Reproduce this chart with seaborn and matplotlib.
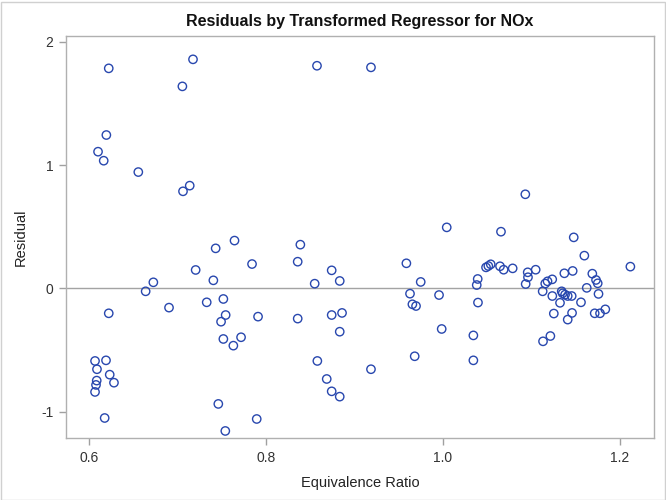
import matplotlib
matplotlib.use("Agg")
import matplotlib.pyplot as plt
import seaborn as sns
import pandas as pd
from matplotlib.patches import Rectangle

equivalence_ratio = [
    0.6223, 0.7175, 0.7055, 0.6196, 0.6102, 0.6166, 0.6557, 0.7138, 0.7062, 0.7644,
    0.7431, 0.7842, 0.7205, 0.7405, 0.6727, 0.6640, 0.7330, 0.7518, 0.6904, 0.6223,
    0.7544, 0.7492, 0.7910, 0.7518, 0.7718, 0.7631, 0.6068, 0.6192, 0.6090, 0.6234,
    0.6087, 0.6079, 0.6282, 0.6068, 0.6177, 0.7461, 0.7895, 0.7540,
    0.8576, 0.9186, 1.0042, 0.8388, 0.8358, 0.8742, 0.8550, 0.8833, 0.9586, 0.9748,
    0.9627, 0.9955, 0.9654, 0.9695, 0.8358, 0.8742, 0.8859, 0.8833, 0.9985, 0.8580,
    0.9680, 0.9186, 0.8686, 0.8742, 0.8833,
    1.0930, 1.0655, 1.1477, 1.1597, 1.2117, 1.0486, 1.0512, 1.0539, 1.0644, 1.0685,
    1.0787, 1.1047, 1.0957, 1.0960, 1.0934, 1.0392, 1.0381, 1.1234, 1.1181, 1.1155,
    1.1371, 1.1465, 1.1687, 1.1729, 1.1748, 1.1624, 1.1126, 1.1341, 1.1352, 1.1379,
    1.1409, 1.1454, 1.1235, 1.1757, 1.0395, 1.1322, 1.1559, 1.1252, 1.1458, 1.1714,
    1.1774, 1.1834, 1.1409, 1.0343, 1.1213, 1.1130, 1.0343,
]
residual = [
    1.783, 1.856, 1.637, 1.243, 1.108, 1.035, 0.943, 0.833, 0.787, 0.388,
    0.325, 0.198, 0.150, 0.066, 0.050, -0.023, -0.112, -0.085, -0.155, -0.201,
    -0.215, -0.269, -0.228, -0.409, -0.395, -0.463, -0.587, -0.582, -0.654, -0.698,
    -0.746, -0.781, -0.763, -0.838, -1.049, -0.935, -1.057, -1.154,
    1.804, 1.791, 0.495, 0.355, 0.217, 0.147, 0.039, 0.061, 0.204, 0.053,
    -0.042, -0.053, -0.128, -0.142, -0.244, -0.215, -0.198, -0.350, -0.328, -0.587,
    -0.549, -0.654, -0.733, -0.833, -0.876,
    0.763, 0.460, 0.414, 0.266, 0.177, 0.171, 0.182, 0.196, 0.180, 0.152,
    0.163, 0.152, 0.131, 0.091, 0.036, 0.077, 0.028, 0.074, 0.058, 0.040,
    0.123, 0.142, 0.120, 0.069, 0.042, 0.005, -0.023, -0.023, -0.039, -0.050,
    -0.061, -0.061, -0.061, -0.044, -0.114, -0.116, -0.112, -0.203, -0.198, -0.201,
    -0.201, -0.169, -0.252, -0.380, -0.385, -0.428, -0.582,
]
x_ticks = [0.6, 0.8, 1.0, 1.2]
x_tick_labels = ["0.6", "0.8", "1.0", "1.2"]
y_ticks = [-1, 0, 1, 2]
y_tick_labels = ["-1", "0", "1", "2"]

df = pd.DataFrame({"Equivalence Ratio": equivalence_ratio, "Residual": residual})

sns.set_theme(style="white")
plt.rcParams["font.family"] = ["Liberation Sans", "DejaVu Sans"]

fig = plt.figure(figsize=(6.66, 5.0), dpi=100)
ax = fig.add_axes([66 / 666, 1 - 438 / 500, (654 - 66) / 666, (438 - 36) / 500])

ax.axhline(0, color="#A3A3A3", lw=1.0, zorder=1)
sns.scatterplot(data=df, x="Equivalence Ratio", y="Residual", ax=ax,
                marker="o", s=36, facecolor="none", edgecolor="#2847AE",
                linewidth=1.0, zorder=3)

ax.set_xlim(0.574, 1.2384)
ax.set_ylim(-1.211, 2.045)
ax.set_xticks(x_ticks)
ax.set_xticklabels(x_tick_labels)
ax.set_yticks(y_ticks)
ax.set_yticklabels(y_tick_labels)

for sp in ax.spines.values():
    sp.set_color("#B0B0B0")
    sp.set_linewidth(1.0)
ax.tick_params(axis="both", which="major", direction="out", length=5, width=1,
               color="#A0A0A0", labelsize=10, labelcolor="#333333", pad=4,
               bottom=True, left=True)
ax.set_xlabel("Equivalence Ratio", fontsize=10.5, color="#222222", labelpad=8)
ax.set_ylabel("Residual", fontsize=10.5, color="#222222", labelpad=10)
ax.set_title("Residuals by Transformed Regressor for NOx", fontsize=11.5,
             fontweight="bold", color="#111111", pad=7)

fig.patches.append(Rectangle((0.5 / 666, 0.5 / 500), 1 - 2 / 666, 1 - 2 / 500,
                             transform=fig.transFigure, fill=False,
                             edgecolor="#D0D0D0", lw=1.0))

fig.savefig("out.png", dpi=100)
